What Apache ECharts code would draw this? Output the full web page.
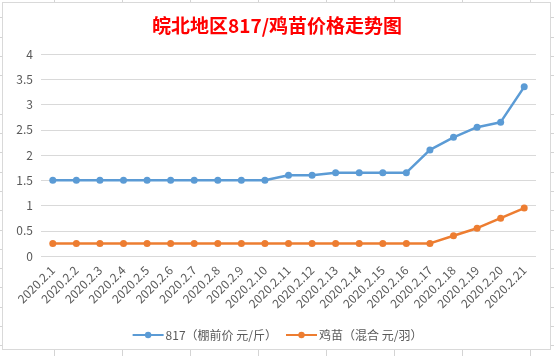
<!DOCTYPE html>
<html>
<head>
<meta charset="utf-8">
<script src="https://cdn.jsdelivr.net/npm/echarts@6/dist/echarts.min.js"></script>
<style>
html,body{margin:0;padding:0;width:554px;height:356px;overflow:hidden;background:#fff;}
#sheet{position:absolute;left:0;top:0;width:554px;height:356px;
 background-image:
  repeating-linear-gradient(to right, transparent 0, transparent 53px, #d4d4d4 53px, #d4d4d4 54px, transparent 54px, transparent 68px),
  repeating-linear-gradient(to bottom, transparent 0, transparent 18.3px, #d4d4d4 18.3px, #d4d4d4 19.3px);
 background-position: 1px 0, 0 -1px;}
#frame{position:absolute;left:2px;top:2px;width:547px;height:346px;border:1px solid #d9d9d9;background:#fff;}
#main{position:absolute;left:0;top:0;width:554px;height:356px;}
</style>
</head>
<body>
<div id="sheet"></div>
<div id="frame"></div>
<div id="main"></div>
<script>
const titleText = '皖北地区817/鸡苗价格走势图';
const categories = ['2020.2.1','2020.2.2','2020.2.3','2020.2.4','2020.2.5','2020.2.6','2020.2.7','2020.2.8','2020.2.9','2020.2.10','2020.2.11','2020.2.12','2020.2.13','2020.2.14','2020.2.15','2020.2.16','2020.2.17','2020.2.18','2020.2.19','2020.2.20','2020.2.21'];
const seriesNames = ['817（棚前价 元/斤）','鸡苗（混合 元/羽）'];
const price817 = [1.5,1.5,1.5,1.5,1.5,1.5,1.5,1.5,1.5,1.5,1.6,1.6,1.65,1.65,1.65,1.65,2.1,2.35,2.55,2.65,3.35];
const priceChick = [0.25,0.25,0.25,0.25,0.25,0.25,0.25,0.25,0.25,0.25,0.25,0.25,0.25,0.25,0.25,0.25,0.25,0.4,0.55,0.75,0.95];
const yMin = 0, yMax = 4, yStep = 0.5;

const font = '"Noto Sans CJK SC", "Noto Sans", sans-serif';
const chart = echarts.init(document.getElementById('main'), null, {renderer:'canvas'});
chart.setOption({
  backgroundColor: 'transparent',
  animation: false,
  title: {
    text: titleText, left: 'center', top: 11,
    textStyle: {color:'#ff0000', fontSize:19, fontWeight:'bold', fontFamily: font}
  },
  legend: {
    data: seriesNames, top: 324, left: 'center', itemWidth: 31, itemHeight: 8, itemGap: 8,
    textStyle: {color:'#595959', fontSize:12, fontFamily: font, padding:[0,0,0,-3]}
  },
  grid: {left: 41, right: 18, top: 54, bottom: 100, containLabel: false},
  xAxis: {
    type: 'category', data: categories, boundaryGap: true,
    axisLine: {show:false}, axisTick: {show:false},
    axisLabel: {rotate: 45, interval: 0, margin: 12, color:'#595959', fontSize:12, fontFamily: font}
  },
  yAxis: {
    type: 'value', min: yMin, max: yMax, interval: yStep,
    axisLine: {show:false}, axisTick: {show:false},
    axisLabel: {margin: 8, color:'#595959', fontSize:12, fontFamily: font},
    splitLine: {lineStyle: {color:'#d9d9d9', width:1}}
  },
  series: [
    {name: seriesNames[0], type:'line', data: price817, symbol:'circle', symbolSize:7,
     itemStyle:{color:'#5b9bd5'}, lineStyle:{color:'#5b9bd5', width:2.5}},
    {name: seriesNames[1], type:'line', data: priceChick, symbol:'circle', symbolSize:7,
     itemStyle:{color:'#ed7d31'}, lineStyle:{color:'#ed7d31', width:2.5}}
  ]
});
</script>
</body>
</html>
